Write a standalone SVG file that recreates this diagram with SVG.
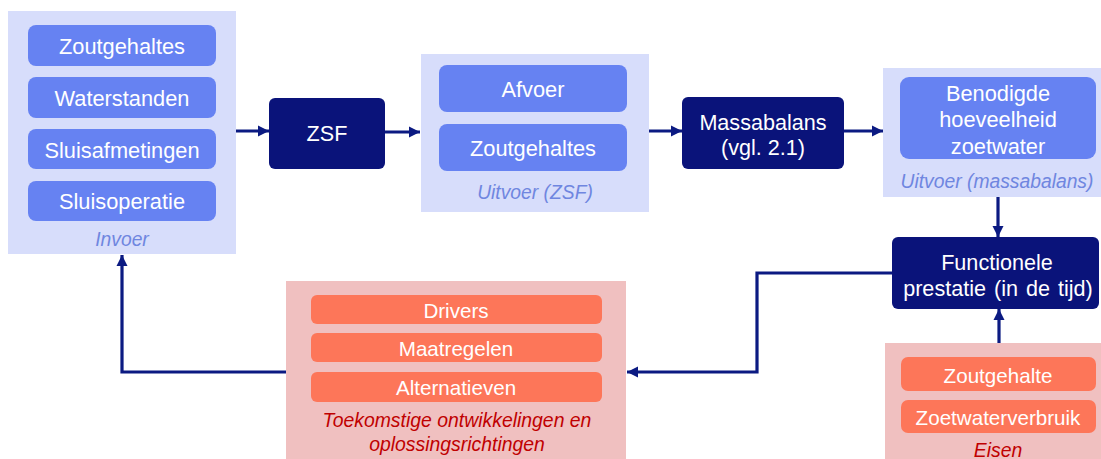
<svg xmlns="http://www.w3.org/2000/svg" width="1101" height="459" viewBox="0 0 1101 459">
<defs>
<style>
text{font-family:"Liberation Sans",Arial,sans-serif;text-anchor:middle;dominant-baseline:central}
.panelB{fill:#d7ddfb}
.panelR{fill:#f0c0c0}
.boxB{fill:#6682f2}
.boxR{fill:#fd7659}
.boxD{fill:#0a137a}
.tw{fill:#ffffff;font-size:21.8px}
.to{fill:#ffffff;font-size:20.6px}
.td{fill:#ffffff;font-size:21.6px}
.lb{fill:#6f86e0;font-size:19.3px;font-style:italic}
.lr{fill:#c00000;font-size:19.4px;font-style:italic}
.con{fill:none;stroke:#0b1a82;stroke-width:3.2}
</style>
<marker id="ah" markerUnits="userSpaceOnUse" markerWidth="12" markerHeight="12" refX="11" refY="6" orient="auto" viewBox="0 0 12 12">
<path d="M0,0.5 L11,6 L0,11.5 z" fill="#0b1a82"/>
</marker>
</defs>

<g id="invoer">
<rect class="panelB" x="8" y="11" width="228" height="243"/>
<rect class="boxB" x="28" y="25" width="188" height="41" rx="8"/>
<text class="tw" x="122" y="46">Zoutgehaltes</text>
<rect class="boxB" x="28" y="77" width="188" height="41" rx="8"/>
<text class="tw" x="122" y="98">Waterstanden</text>
<rect class="boxB" x="28" y="129" width="188" height="40" rx="8"/>
<text class="tw" x="122" y="150">Sluisafmetingen</text>
<rect class="boxB" x="28" y="181" width="188" height="40" rx="8"/>
<text class="tw" x="122" y="201">Sluisoperatie</text>
<text class="lb" x="122" y="239">Invoer</text>
</g>

<g id="zsf">
<rect class="boxD" x="269" y="98" width="116" height="71" rx="6"/>
<text class="td" x="327" y="133">ZSF</text>
</g>

<g id="uitvoer-zsf">
<rect class="panelB" x="421" y="54" width="228" height="158"/>
<rect class="boxB" x="439" y="65" width="188" height="47" rx="8"/>
<text class="tw" x="533" y="89">Afvoer</text>
<rect class="boxB" x="439" y="124" width="188" height="47" rx="8"/>
<text class="tw" x="533" y="148">Zoutgehaltes</text>
<text class="lb" x="535" y="192">Uitvoer (ZSF)</text>
</g>

<g id="massabalans">
<rect class="boxD" x="682" y="97" width="162" height="72" rx="6"/>
<text class="td" x="763" y="122">Massabalans</text>
<text class="td" x="763" y="147">(vgl. 2.1)</text>
</g>

<g id="uitvoer-massabalans">
<rect class="panelB" x="883" y="68" width="218" height="129"/>
<rect class="boxB" x="900" y="77" width="196" height="82" rx="9"/>
<text class="tw" x="998" y="93">Benodigde</text>
<text class="tw" x="998" y="119">hoeveelheid</text>
<text class="tw" x="998" y="146">zoetwater</text>
<text class="lb" x="997" y="181">Uitvoer (massabalans)</text>
</g>

<g id="functionele-prestatie">
<rect class="boxD" x="892" y="237" width="207" height="72" rx="6"/>
<text class="td" x="997" y="262">Functionele</text>
<text class="td" x="998" y="288" word-spacing="2">prestatie (in de tijd)</text>
</g>

<g id="eisen">
<rect class="panelR" x="885" y="343" width="216" height="116"/>
<rect class="boxR" x="901" y="357" width="195" height="34" rx="7"/>
<text class="to" x="998" y="375">Zoutgehalte</text>
<rect class="boxR" x="901" y="400" width="195" height="33" rx="7"/>
<text class="to" x="998" y="417">Zoetwaterverbruik</text>
<text class="lr" x="998" y="450">Eisen</text>
</g>

<g id="toekomstige-ontwikkelingen">
<rect class="panelR" x="286" y="281" width="340" height="178"/>
<rect class="boxR" x="311" y="295" width="291" height="29" rx="6"/>
<text class="to" x="456" y="310">Drivers</text>
<rect class="boxR" x="311" y="333" width="291" height="29" rx="6"/>
<text class="to" x="456" y="348">Maatregelen</text>
<rect class="boxR" x="311" y="372" width="291" height="30" rx="6"/>
<text class="to" x="456" y="387">Alternatieven</text>
<text class="lr" x="457" y="420">Toekomstige ontwikkelingen en</text>
<text class="lr" x="457" y="444">oplossingsrichtingen</text>
</g>

<g id="connectors">
<path class="con" d="M236,131 H269" marker-end="url(#ah)"/>
<path class="con" d="M385,132 H420" marker-end="url(#ah)"/>
<path class="con" d="M649,131 H682" marker-end="url(#ah)"/>
<path class="con" d="M844,131 H883" marker-end="url(#ah)"/>
<path class="con" d="M998,197 V237" marker-end="url(#ah)"/>
<path class="con" d="M999,343 V309" marker-end="url(#ah)"/>
<path class="con" d="M892,273 H757 V372 H627" marker-end="url(#ah)"/>
<path class="con" d="M286,372 H122 V255" marker-end="url(#ah)"/>
</g>
</svg>
